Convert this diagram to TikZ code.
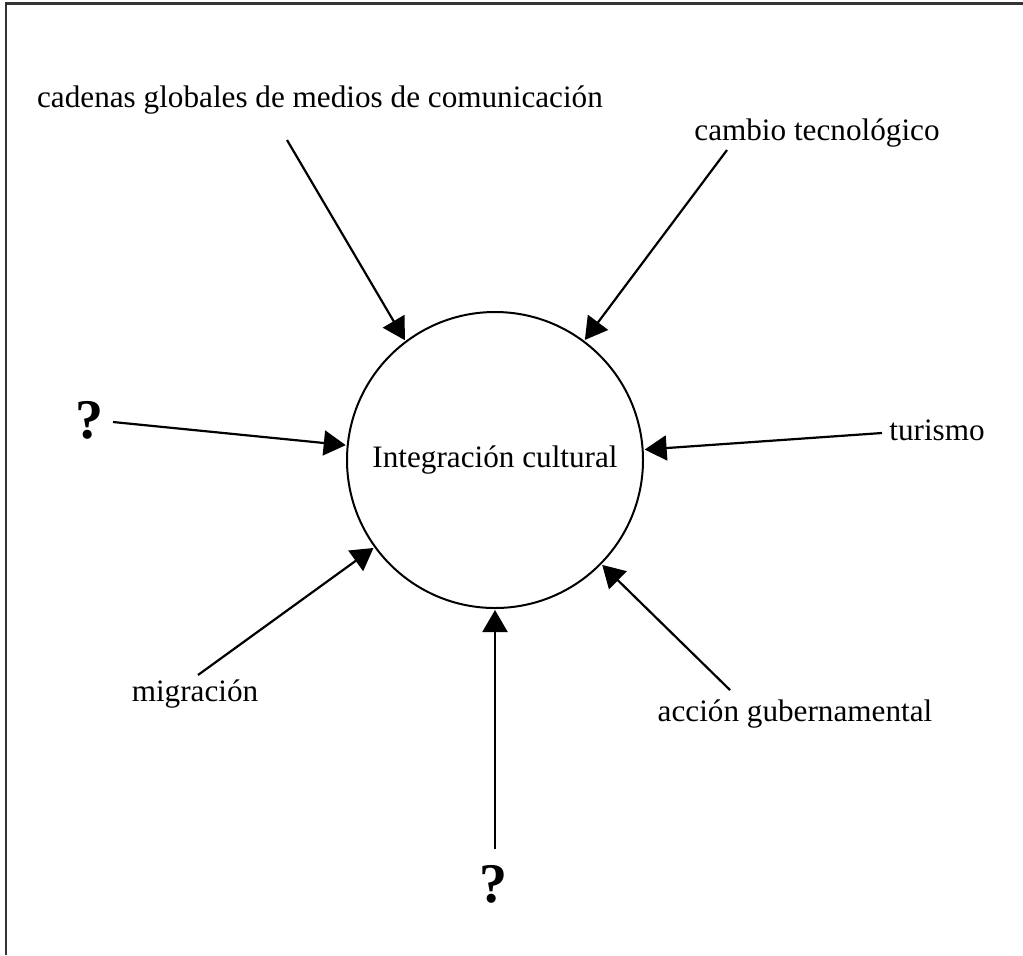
\documentclass[tikz,border=0pt]{standalone}
\usepackage{fontspec}
\setmainfont{Liberation Serif}
\usetikzlibrary{arrows.meta}
\begin{document}
\begin{tikzpicture}[x=0.5pt,y=-0.5pt,
  lbl/.style={inner sep=0pt,font=\fontsize{15.6pt}{18pt}\selectfont},
  qm/.style={inner sep=0pt,font=\fontsize{28pt}{30pt}\selectfont\bfseries},
  hub/.style={circle,draw,line width=1pt,minimum size=148pt,inner sep=0pt,
    font=\fontsize{15.6pt}{18pt}\selectfont},
  conn/.style={line width=1.1pt,-{Triangle[length=11pt,width=12.5pt]},shorten >=0.5pt},
  frameline/.style={line width=1.2pt,draw=black!80}]
\useasboundingbox (0,0) rectangle (1023,955);
\draw[frameline] (6,955) -- (6,3.5) -- (1023,3.5);
\node[hub] (c) at (495,460) {Integración cultural};
\node[lbl] (cad) at (320,100) {cadenas globales de medios de comunicación};
\node[lbl] (cam) at (817,133) {cambio tecnológico};
\node[qm] (q1) at (89,420) {?};
\node[lbl] (tur) at (937,430) {turismo};
\node[lbl] (mig) at (195,694) {migración};
\node[lbl] (acc) at (795,714) {acción gubernamental};
\node[qm] (q2) at (493,884) {?};
\coordinate (s1) at (287,140);
\coordinate (s2) at (727,150);
\coordinate (s3) at (113,422);
\coordinate (s4) at (882,433);
\coordinate (s5) at (198,675);
\coordinate (s6) at (495,849);
\coordinate (s7) at (730,690);
\draw[conn] (s1) -- (c.127);
\foreach \s in {s2,s3,s4,s5,s6,s7}
  \draw[conn] (\s) -- (c);
\end{tikzpicture}
\end{document}
